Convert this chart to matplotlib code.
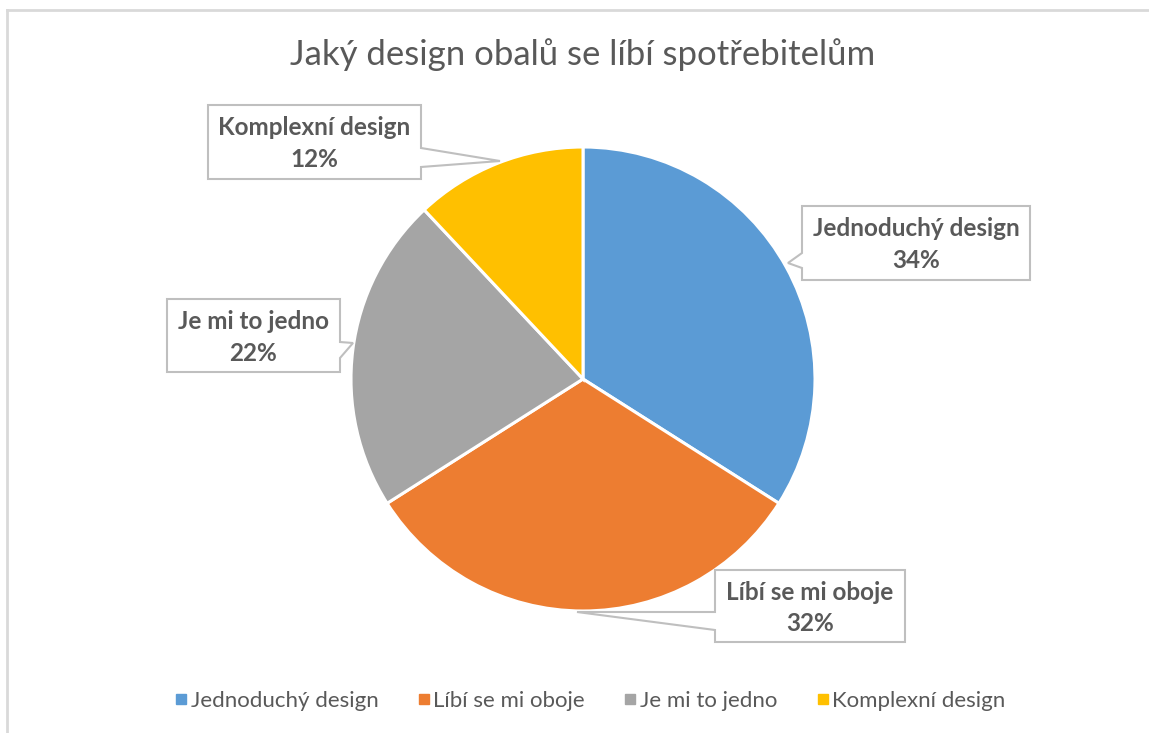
import matplotlib
matplotlib.use("Agg")
import matplotlib.pyplot as plt
from matplotlib.patches import Polygon
from matplotlib.lines import Line2D
import numpy as np

categories = ["Jednoduchý design", "Líbí se mi oboje", "Je mi to jedno", "Komplexní design"]
values = [34, 32, 22, 12]
colors = ["#5B9BD5", "#ED7D31", "#A5A5A5", "#FFC000"]
title = "Jaký design obalů se líbí spotřebitelům"

W, H = 1149, 733
fig = plt.figure(figsize=(W / 100, H / 100), dpi=100)
ax = fig.add_axes([0, 0, 1, 1])

def Y(y):
    return H - y

cx, cy, r = 583, Y(379), 232
ax.pie(values, colors=colors, startangle=90, counterclock=False,
       center=(cx, cy), radius=r, frame=True,
       wedgeprops=dict(edgecolor="white", linewidth=2.2))
ax.set_xlim(0, W)
ax.set_ylim(0, H)
ax.set_aspect("auto")
ax.axis("off")

# border
ax.add_line(Line2D([7, 7], [Y(10), 0], color="#d9d9d9", lw=2))
ax.add_line(Line2D([7, 1149], [Y(10), Y(10)], color="#d9d9d9", lw=2))

ax.text(583, Y(55), title, ha="center", va="center", fontsize=25,
        color="#595959", family="Lato")

# callouts: (box x0, x1, y0, y1), pointer attach (x, ya, yb), tip
callouts = [
    ((802, 1030, 206, 280), (802, 253, 268), (788, 263)),
    ((715, 905, 570, 642), (715, 612, 630), (577, 612)),
    ((167, 340, 299, 372), (340, 342, 358), (353, 343)),
    ((208, 421, 105, 179), (421, 148, 167), (500, 161)),
]
for i, (box, att, tip) in enumerate(callouts):
    x0, x1, y0, y1 = box
    ax_, ya, yb = att
    pts = [(x0, y0), (x1, y0)]
    if ax_ == x1:
        pts += [(x1, ya), tip, (x1, yb), (x1, y1), (x0, y1)]
    else:
        pts += [(x1, y1), (x0, y1), (x0, yb), tip, (x0, ya)]
    poly = Polygon([(px, Y(py)) for px, py in pts], closed=True,
                   facecolor="white", edgecolor="#bfbfbf", lw=1.5, zorder=5)
    ax.add_patch(poly)
    xm = (x0 + x1) / 2
    yh = y1 - y0
    ax.text(xm, Y(y0 + yh * 0.31), categories[i], ha="center", va="center",
            fontsize=17.5, fontweight="bold", color="#595959", family="Lato", zorder=6)
    ax.text(xm, Y(y0 + yh * 0.74), f"{values[i]}%", ha="center", va="center",
            fontsize=17.5, fontweight="bold", color="#595959", family="Lato", zorder=6)

handles = [Line2D([], [], marker="s", linestyle="none", markersize=7.5,
                  markerfacecolor=c, markeredgecolor=c) for c in colors]
leg = ax.legend(handles, categories, loc="center", bbox_to_anchor=(590 / W, 1 - 701 / H),
                ncol=4, frameon=False, handlelength=0.6, handletextpad=0.12,
                columnspacing=1.75,
                prop=dict(family="Lato", size=16), labelcolor="#595959",
                bbox_transform=fig.transFigure)

fig.savefig("out.png", dpi=100, facecolor="white")
